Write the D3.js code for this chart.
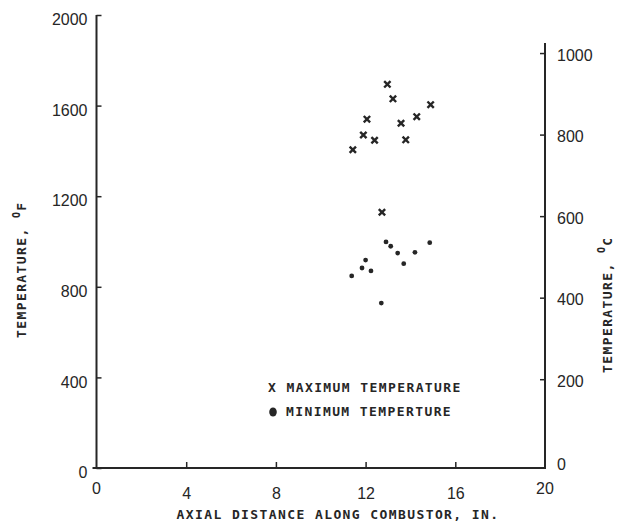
<!DOCTYPE html>
<html>
<head>
<meta charset="utf-8">
<script src="https://cdn.jsdelivr.net/npm/d3@7"></script>
<style>
  body { margin: 0; background: #fff; }
  .mono { font-family: "DejaVu Sans Mono", monospace; font-size: 13px; font-weight: bold; letter-spacing: 1.4px; fill: #262626; }
  .tick text { font-family: "Liberation Sans", Arial, sans-serif; font-size: 16px; fill: #262626; }
</style>
</head>
<body>
<div id="chart"></div>
<script>
// maximum temperature points (x = axial distance in., y = deg F)
var maxX = [12.97, 13.22, 14.9, 12.06, 14.28, 13.58, 11.9, 12.4, 13.79, 11.43, 12.73];
var maxF = [1694, 1630, 1604, 1540, 1551, 1522, 1470, 1447, 1449, 1405, 1129];
// minimum temperature points
var minX = [12.91, 13.12, 13.43, 14.86, 14.2, 13.7, 12.0, 11.84, 12.24, 11.38, 12.7];
var minF = [998, 979, 949, 995, 952, 902, 918, 883, 870, 848, 728];

var xTicks = [0, 4, 8, 12, 16, 20];
var fTicks = [0, 400, 800, 1200, 1600, 2000];
var cTicks = [0, 200, 400, 600, 800, 1000];

var width = 618, height = 523;
var margin = { top: 15, right: 73, bottom: 55, left: 96.5 };

var svg = d3.select("#chart")
  .append("svg")
  .attr("width", width)
  .attr("height", height);

var x = d3.scaleLinear()
  .domain([0, 20])
  .range([margin.left, width - margin.right]);

var yF = d3.scaleLinear()
  .domain([0, 2000])
  .range([height - margin.bottom, margin.top]);

// right axis in deg C, lined up with the F scale
var yC = d3.scaleLinear()
  .domain([0, 1000])
  .range([yF(32), yF(1832)]);

var ink = "#262626";
var numFmt = d3.format("d");

// left axis (ticks point inward)
var gl = svg.append("g")
  .attr("transform", "translate(" + margin.left + ",0)")
  .call(d3.axisRight(yF).tickValues(fTicks).tickSize(5).tickFormat(numFmt));
gl.select(".domain").remove();
gl.selectAll(".tick text").attr("x", -9).attr("dy", "0.6em").style("text-anchor", "end");

// bottom axis
var gb = svg.append("g")
  .attr("transform", "translate(0," + yF(0) + ")")
  .call(d3.axisTop(x).tickValues(xTicks.slice(1, 5)).tickSize(6).tickFormat(numFmt));
gb.select(".domain").remove();
gb.selectAll(".tick text").attr("y", 20).attr("dy", "0.7em");

svg.append("g")
  .selectAll("text")
  .data([xTicks[0], xTicks[5]])
  .enter()
  .append("text")
  .attr("x", function(d) { return x(d); })
  .attr("y", yF(0) + 26)
  .style("text-anchor", "middle")
  .style("font-family", "Liberation Sans, Arial, sans-serif")
  .style("font-size", "16px")
  .attr("fill", ink)
  .text(function(d) { return d; });

// right axis
var gr = svg.append("g")
  .attr("transform", "translate(" + x(20) + ",0)")
  .call(d3.axisLeft(yC).tickValues(cTicks.slice(1)).tickSize(5).tickFormat(numFmt));
gr.select(".domain").remove();
gr.selectAll(".tick text").attr("x", 12).attr("dy", "0.45em").style("text-anchor", "start");

svg.append("text")
  .attr("x", x(20) + 12)
  .attr("y", yC(cTicks[0]) + 2)
  .attr("dy", "0.45em")
  .style("font-family", "Liberation Sans, Arial, sans-serif")
  .style("font-size", "16px")
  .attr("fill", ink)
  .text(cTicks[0]);

svg.selectAll(".tick line").attr("stroke", ink).attr("stroke-width", 1.5);

// axis frame lines
var frame = d3.line();
svg.append("path")
  .attr("d", frame([[x(0), yF(2000)], [x(0), yF(0)], [x(20), yF(0)], [x(20), yC(1000) - 10]]))
  .attr("fill", "none")
  .attr("stroke", ink)
  .attr("stroke-width", 2);
// small foot at left end of x axis
svg.append("line")
  .attr("x1", x(0) - 4).attr("x2", x(0))
  .attr("y1", yF(0)).attr("y2", yF(0))
  .attr("stroke", ink).attr("stroke-width", 2);

// axis titles
svg.append("text")
  .attr("class", "mono")
  .attr("x", 338)
  .attr("y", height - 4)
  .style("text-anchor", "middle")
  .text("AXIAL DISTANCE ALONG COMBUSTOR, IN.");

var tl = svg.append("text")
  .attr("class", "mono")
  .attr("transform", "translate(26,338) rotate(-90)")
  .attr("x", 0)
  .attr("y", 0);
tl.append("tspan").text("TEMPERATURE,  ");
tl.append("tspan").attr("dy", -6).style("font-size", "10px").text("O");
tl.append("tspan").attr("dy", 6).text("F");

var tr = svg.append("text")
  .attr("class", "mono")
  .attr("transform", "translate(612,373) rotate(-90)")
  .attr("x", 0)
  .attr("y", 0);
tr.append("tspan").text("TEMPERATURE,   ");
tr.append("tspan").attr("dy", -7).style("font-size", "10px").text("O");
tr.append("tspan").attr("dy", 7).text("C");

// maximum temperature marks
var xMark = d3.symbol().type(d3.symbolX).size(28);
svg.append("g")
  .selectAll("path")
  .data(maxX.map(function(d, i) { return [d, maxF[i]]; }))
  .enter()
  .append("path")
  .attr("d", xMark)
  .attr("transform", function(d) { return "translate(" + x(d[0]) + "," + yF(d[1]) + ")"; })
  .attr("fill", "none")
  .attr("stroke", ink)
  .attr("stroke-width", 2.4);

// minimum temperature dots
svg.append("g")
  .selectAll("circle")
  .data(minX.map(function(d, i) { return [d, minF[i]]; }))
  .enter()
  .append("circle")
  .attr("cx", function(d) { return x(d[0]); })
  .attr("cy", function(d) { return yF(d[1]); })
  .attr("r", 2.4)
  .attr("fill", ink);

// legend
svg.append("text")
  .attr("class", "mono")
  .attr("x", 268)
  .attr("y", 392)
  .text("X MAXIMUM TEMPERATURE");

svg.append("ellipse")
  .attr("cx", 273)
  .attr("cy", 412)
  .attr("rx", 3.8)
  .attr("ry", 4.5)
  .attr("fill", ink);

svg.append("text")
  .attr("class", "mono")
  .attr("x", 286)
  .attr("y", 416)
  .text("MINIMUM TEMPERTURE");
</script>
</body>
</html>
